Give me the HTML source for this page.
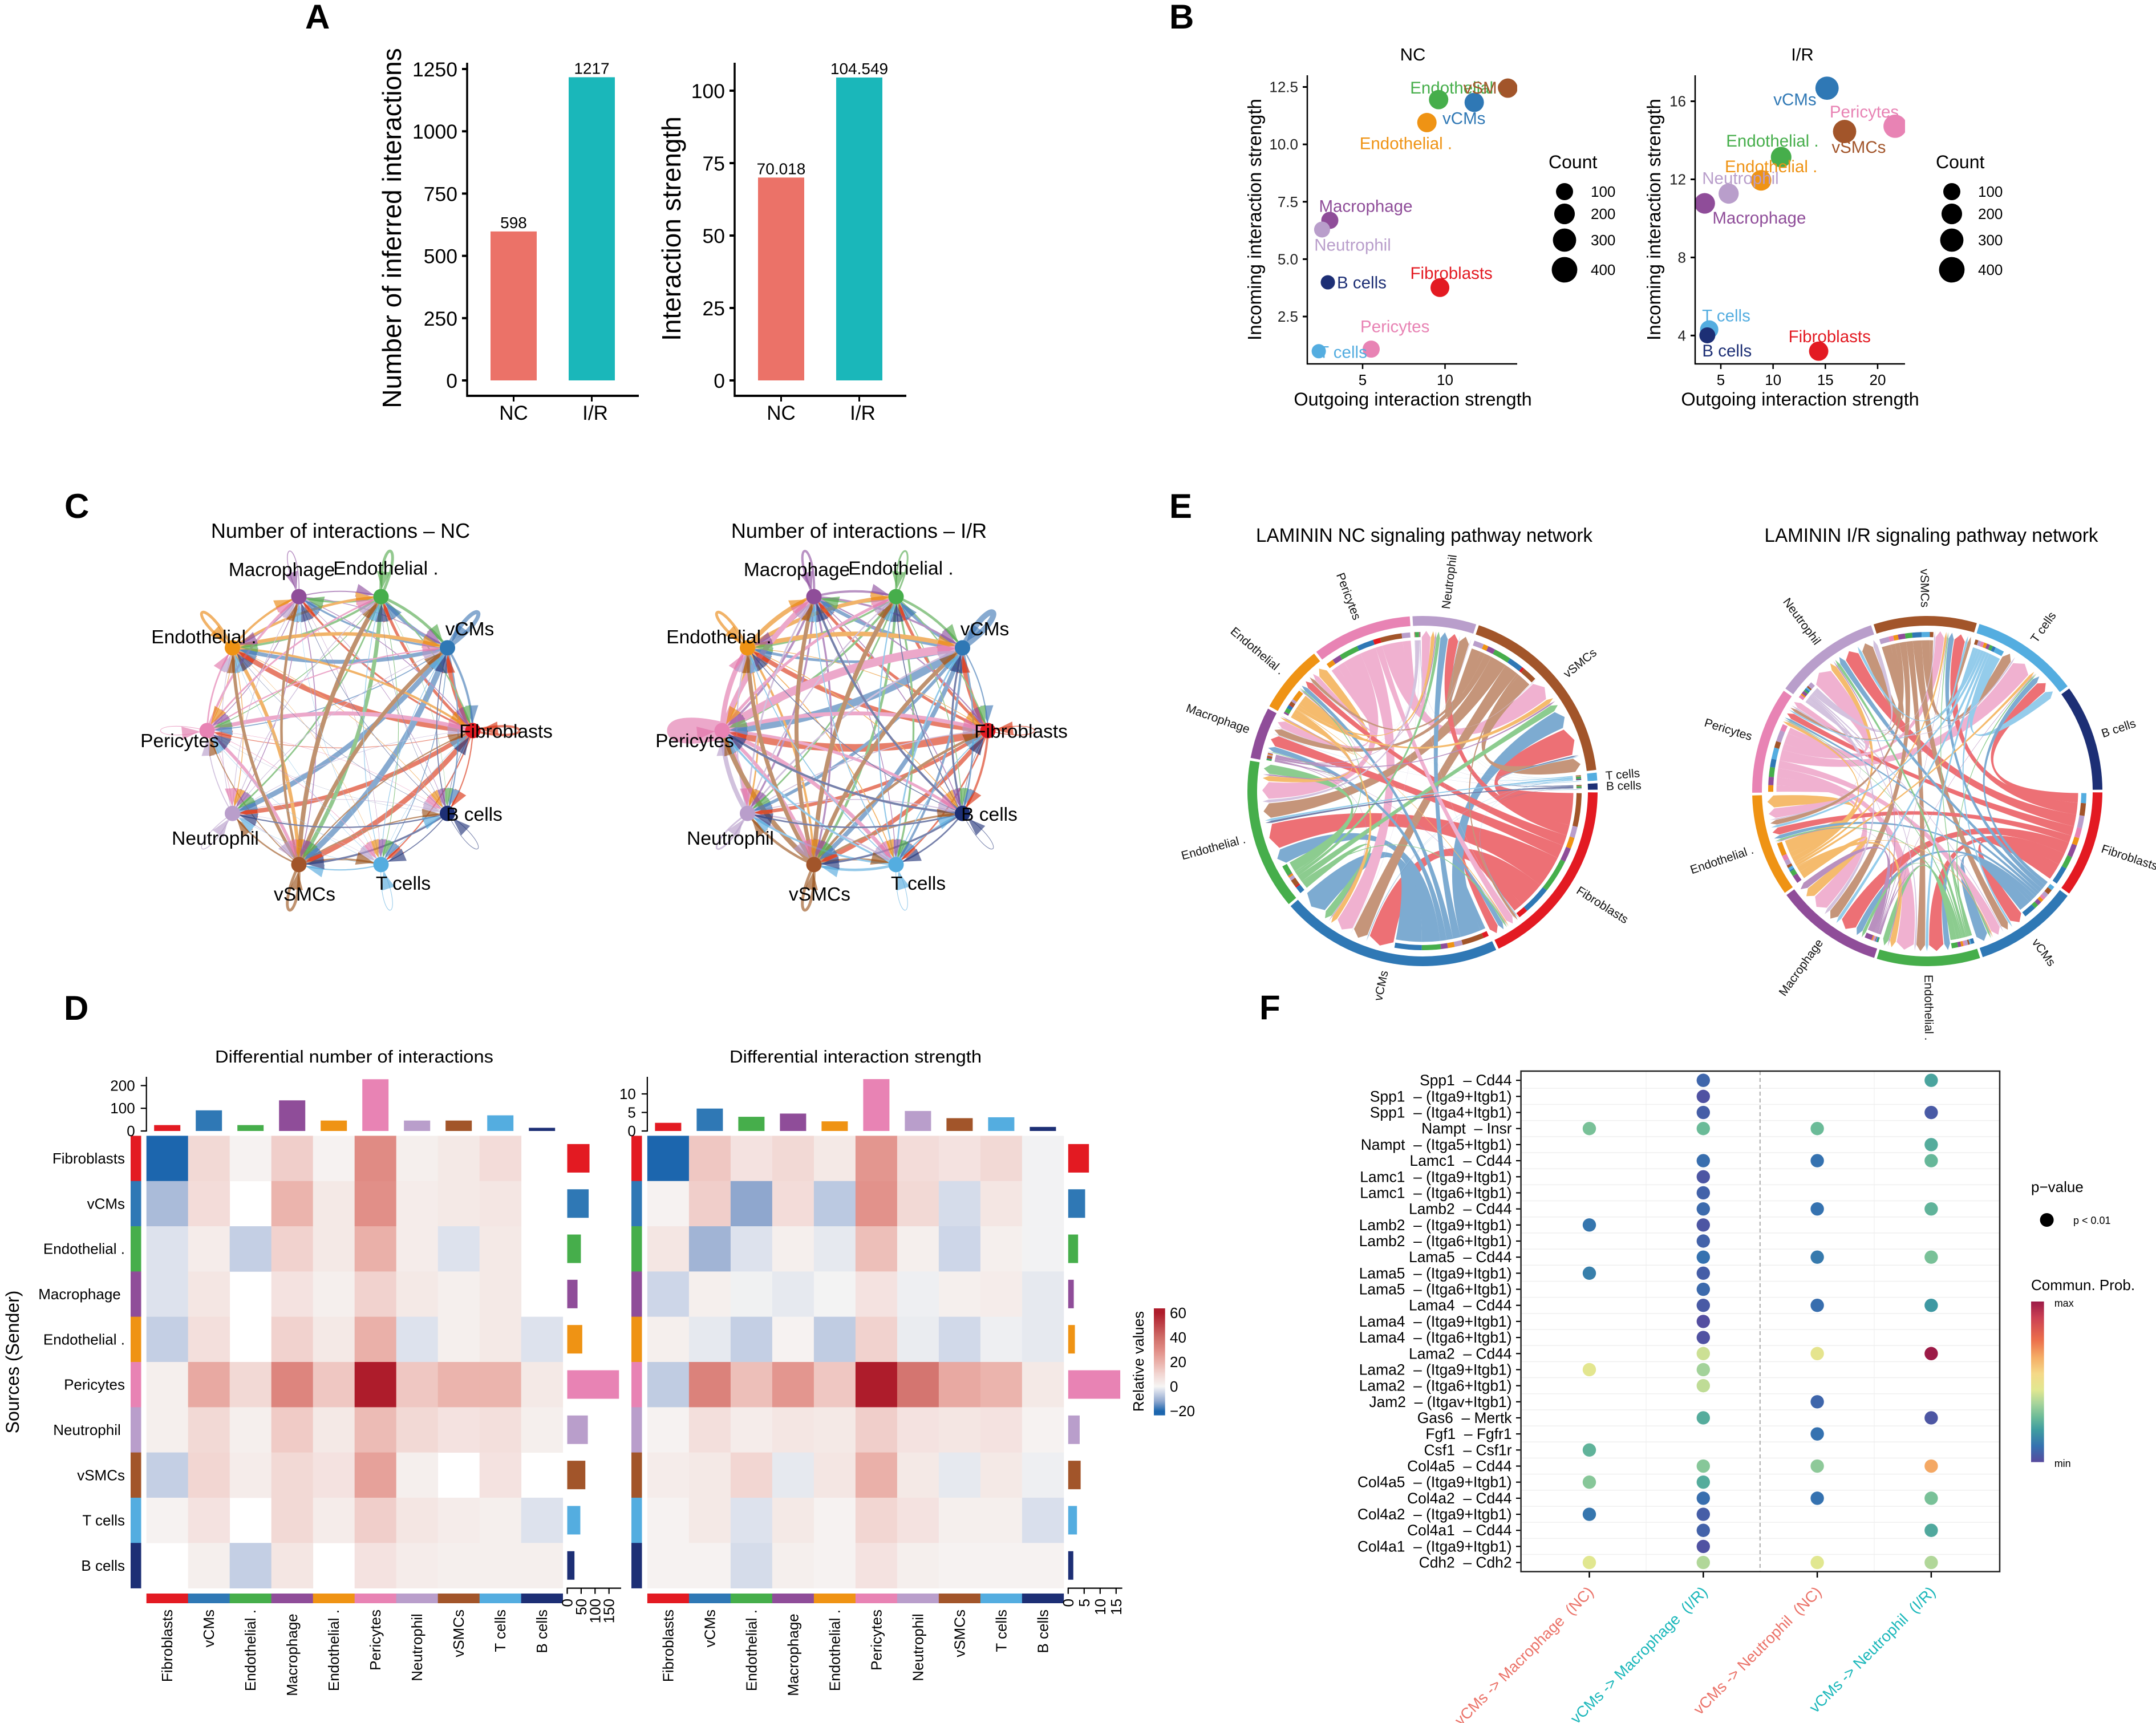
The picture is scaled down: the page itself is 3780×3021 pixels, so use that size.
<!DOCTYPE html>
<html lang="en">
<head>
<meta charset="utf-8">
<title>Cell communication figure</title>
<style>
html,body{margin:0;padding:0;background:#fff;}
svg{display:block;}
text{font-family:"Liberation Sans",sans-serif;fill:#000;white-space:pre;}
.letter{font-weight:bold;font-size:60px;}
</style>
</head>
<body>
<svg id="fig" xmlns="http://www.w3.org/2000/svg" width="3780" height="3021" viewBox="0 0 3780 3021">
<defs>
<clipPath id="clipB1"><rect x="2292" y="132" width="368" height="506"/></clipPath>
<clipPath id="clipB2"><rect x="2972" y="132" width="368" height="506"/></clipPath>
<linearGradient id="heatGrad" gradientUnits="userSpaceOnUse" x1="0" x2="0" y1="2302" y2="2474"></linearGradient>
<linearGradient id="probGrad" x1="0" x2="0" y1="1" y2="0"></linearGradient>
</defs>
<rect x="0" y="0" width="3780" height="3021" fill="#fff"/>

<text class="letter" x="535" y="50">A</text>
<text class="letter" x="2050" y="50">B</text>
<text class="letter" x="113" y="908">C</text>
<text class="letter" x="112" y="1788">D</text>
<text class="letter" x="2050" y="908">E</text>
<text class="letter" x="2208" y="1787">F</text>

<g id="panelA">
<text transform="rotate(-90 703 400)" x="703" y="400" font-size="46" text-anchor="middle">Number of inferred interactions</text>
<text transform="rotate(-90 1193 401)" x="1193" y="401" font-size="46" text-anchor="middle">Interaction strength</text>
</g>

<g id="panelB">
<text x="2477" y="106" font-size="31" text-anchor="middle">NC</text>
<text x="3160" y="106" font-size="31" text-anchor="middle">I/R</text>
<text x="2477" y="711" font-size="32.5" text-anchor="middle">Outgoing interaction strength</text>
<text x="3156" y="711" font-size="32.5" text-anchor="middle">Outgoing interaction strength</text>
<text transform="rotate(-90 2211 385)" x="2211" y="385" font-size="33" text-anchor="middle">Incoming interaction strength</text>
<text transform="rotate(-90 2911 385)" x="2911" y="385" font-size="33" text-anchor="middle">Incoming interaction strength</text>
</g>

<g id="panelC">
<text x="597" y="943" font-size="36" text-anchor="middle">Number of interactions – NC</text>
<text x="1506" y="943" font-size="36" text-anchor="middle">Number of interactions – I/R</text>
</g>

<g id="panelE">
<text x="2497" y="950" font-size="34" text-anchor="middle" textLength="590" lengthAdjust="spacingAndGlyphs">LAMININ NC signaling pathway network</text>
<text x="3386" y="950" font-size="34" text-anchor="middle" textLength="585" lengthAdjust="spacingAndGlyphs">LAMININ I/R signaling pathway network</text>
</g>

<g id="panelD">
<text x="621" y="1863" font-size="31" text-anchor="middle" textLength="488" lengthAdjust="spacingAndGlyphs">Differential number of interactions</text>
<text x="1500" y="1863" font-size="31" text-anchor="middle" textLength="442" lengthAdjust="spacingAndGlyphs">Differential interaction strength</text>
<text transform="rotate(-90 33 2388)" x="33" y="2388" font-size="32" text-anchor="middle">Sources (Sender)</text>
<text transform="rotate(-90 2005 2387)" x="2005" y="2387" font-size="26" text-anchor="middle">Relative values</text>
</g>

<g id="panelF">
<text x="3561" y="2090" font-size="26">p−value</text>
<circle cx="3588.6" cy="2139" r="12" fill="#000"/>
<text x="3635" y="2146" font-size="18">p &lt; 0.01</text>
<text x="3561" y="2262" font-size="26">Commun. Prob.</text>
<rect x="3561" y="2282" width="22.6" height="281.6" fill="url(#probGrad)"/>
<text x="3601.7" y="2291" font-size="18">max</text>
<text x="3601.7" y="2572" font-size="18">min</text>
</g>
</svg>

<script>
/* ---------- shared categories ---------- */
const cellTypes = ['Fibroblasts','vCMs','Endothelial .','Macrophage','Endothelial .','Pericytes','Neutrophil','vSMCs','T cells','B cells'];
const heatLabels = ['Fibroblasts','vCMs','Endothelial .','Macrophage ','Endothelial .','Pericytes','Neutrophil ','vSMCs','T cells','B cells'];
const cellColors = ['#E31A22','#2F78B5','#46AE4B','#8F4D99','#EF9314','#E883B4','#B99ECB','#A2552A','#54ADE0','#1D2F75'];
const edgeColors = ['#D82A08','#3973B2','#4BA544','#8A4A9C','#E98207','#E170A7','#B499C8','#964A10','#4EA6DC','#1D2F75'];

/* ---------- panel A data ---------- */
const barCategories = ['NC','I/R'];
const barColors = ['#EB7268','#1AB7BA'];
const interactionCounts = [598,1217];
const interactionStrengths = [70.018,104.549];
const countTicks = [0,250,500,750,1000,1250];
const strengthTicks = [0,25,50,75,100];

/* ---------- panel B data ---------- */
const ncOutgoing = [9.69,11.77,9.61,3.01,8.9,5.52,2.54,13.81,2.34,2.89];
const ncIncoming = [3.76,11.83,11.95,6.69,10.95,1.08,6.29,12.45,0.99,3.99];
const ncCounts = [145,161,161,100,161,100,75,161,44,44];
const irOutgoing = [14.36,15.16,10.77,3.46,8.85,21.67,5.75,16.84,3.89,3.71];
const irIncoming = [3.2,16.67,13.14,10.77,11.95,14.72,11.27,14.45,4.31,4.01];
const irCounts = [160,300,200,200,200,300,185,300,130,75];
const ncXTicks = [5,10];
const ncYTicks = [2.5,5,7.5,10,12.5];
const irXTicks = [5,10,15,20];
const irYTicks = [4,8,12,16];
const countLegend = [100,200,300,400];
const ncLabelShift = [[-52,-25.5],[-55.6,28],[-50,-20.4],[-19,-25],[-118,36.7],[-19,-39.8],[-13.6,27],[-78,-0.5],[0,1.5],[16,0.5]];
const irLabelShift = [[-53,-25.5],[-94,20],[-96.5,-28.6],[13.6,25.5],[-63.6,-24],[-114.7,-25.5],[-46.5,-27],[-22.7,27.5],[-12.5,-24],[-9,27]];

/* ---------- panel C data: interactions from row to column ---------- */
const ncInteractions = [
 [27,28,18,12,32,4,28,32,8,8],
 [14,47,22,12,25,6,32,36,5,8],
 [8,18,33,12,14,5,10,25,4,2],
 [5,5,7,10,8,5,5,6,2,3],
 [14,22,16,14,33,4,5,22,2,3],
 [25,8,10,14,10,7,3,20,3,2],
 [3,4,5,4,4,6,10,4,2,3],
 [8,25,28,16,20,6,10,33,12,8],
 [2,4,4,2,2,2,2,8,7,3],
 [3,6,2,3,2,1,8,12,6,7]
];
const irInteractions = [
 [10,30,18,18,28,48,22,28,10,14],
 [8,67,20,22,17,48,20,28,14,10],
 [8,16,20,14,12,14,10,16,12,5],
 [8,12,14,27,14,14,12,12,5,6],
 [4,28,24,28,33,18,10,14,6,5],
 [24,52,18,32,30,200,28,22,24,18],
 [6,10,8,10,8,28,20,12,10,6],
 [16,25,28,25,25,30,16,33,14,12],
 [6,10,8,6,6,12,12,16,7,8],
 [3,12,6,14,5,14,10,12,10,7]
];
const netLabelShift = [[58,1.5],[39,-32.6],[8.5,-49.5],[-30,-47],[-50,-19],[-48,18],[-30,44],[10,52],[39,33],[47,2]];

/* ---------- panel D data ---------- */
const diffCount = [
 [-20,9,1,12,1,30,2,4,8,null],
 [-9,8,null,19,4,29,3,4,5,null],
 [-3,3,-6,11,4,20,3,-3,4,null],
 [-3,5,null,6,2,11,4,2,4,null],
 [-6,7,null,11,4,20,-3,2,4,-3],
 [2,22,9,32,14,60,14,19,19,4],
 [2,9,2,13,4,17,9,6,7,2],
 [-6,10,3,9,6,24,2,null,6,null],
 [1,6,null,9,3,12,5,3,2,-3],
 [null,2,-6,5,null,6,3,2,2,2]
];
const diffStrength = [
 [-20,14,6,9,4,27,8,6,9,-0.5],
 [1,12,-12,8,-7,28,9,-4,5,-0.5],
 [5,-10,-3,2,-2,16,2,-5,2,-0.5],
 [-5,2,-0.7,-2,-0.4,6,-1,2,3,-2],
 [2,-2,-6,1,-6.5,11,-1.5,-4.5,-1,-2],
 [-6.5,33,16,27,14,60,37,22,19,4],
 [1,7,3,5,4,12,6,5,6,1],
 [3,4,10,-2,5,20,4,-2,4,-1],
 [1,4,-3,4,1,10,6,2,2,-3.5],
 [1,1,-4,2,1,6,2,1,1,1]
];
const countTopBars = [26,91,26,135,46,228,46,46,69,14];
const countRightBars = [80,77,49,37,54,186,74,65,47,26];
const strengthTopBars = [2.2,6.05,3.83,4.7,2.6,14,5.4,3.46,3.7,1.1];
const strengthRightBars = [6.5,5.3,3.1,1.75,2.1,16.3,3.6,3.9,2.75,1.6];
const countTopTicks = [0,100,200];
const countRightTicks = [0,50,100,150];
const strengthTopTicks = [0,5,10];
const strengthRightTicks = [0,5,10,15];
const heatLegendTicks = [60,40,20,0,-20];

/* ---------- panel E data: pathway flows from row to column ---------- */
const ncSectorShares = [64.5,74.5,51,18,23.6,34,22,65,3.5,3];
const irSectorShares = [36.3,35.7,35.2,36.8,35,36.4,36.3,35.2,36.8,36.3];
const ncFlows = [
 [3.5,10,12,5,4,0,4,12,0,0],
 [2,10,7,2.5,2.5,0,3,8,0,0],
 [.7,3,4.5,.3,.8,0,1.5,3,0,0],
 [.2,.3,.6,.3,.5,0,.5,.8,0,0],
 [.4,2,2.5,1,6,0,1.5,2,0,0],
 [3,7,8,3.5,3,0,3.5,9,0,0],
 [.1,.1,1.4,.2,.1,0,.2,.2,0,0],
 [1,6,7,3,2,0,4,6,0,0],
 [.2,.2,1,.1,.1,0,.1,.4,.2,.2],
 [.1,.1,1,.05,.05,0,.05,.5,.05,.1]
];
const irFlows = [
 [0,7,5,5,3,4,5,5,4,0],
 [0,6,2,2,1.5,1.5,2,2.5,2,0],
 [0,1,2,1,.7,.5,1,.5,.5,0],
 [0,.3,.3,2,.3,.3,.4,.2,.2,0],
 [0,.5,2,3,5,2,2,1,1,0],
 [0,5,6,5,4,4,7,4,7,0],
 [0,.5,.5,1,.5,1,1.5,.5,.5,0],
 [0,4,3,3,2,2,4,1.5,3.5,0],
 [0,1,1,1,1,1,1,1,3,0],
 [0,0,0,0,0,0,0,0,0,0]
];

/* ---------- panel F data ---------- */
const ligandReceptors = ['Spp1  – Cd44','Spp1  – (Itga9+Itgb1)','Spp1  – (Itga4+Itgb1)','Nampt  – Insr','Nampt  – (Itga5+Itgb1)','Lamc1  – Cd44','Lamc1  – (Itga9+Itgb1)','Lamc1  – (Itga6+Itgb1)','Lamb2  – Cd44','Lamb2  – (Itga9+Itgb1)','Lamb2  – (Itga6+Itgb1)','Lama5  – Cd44','Lama5  – (Itga9+Itgb1)','Lama5  – (Itga6+Itgb1)','Lama4  – Cd44','Lama4  – (Itga9+Itgb1)','Lama4  – (Itga6+Itgb1)','Lama2  – Cd44','Lama2  – (Itga9+Itgb1)','Lama2  – (Itga6+Itgb1)','Jam2  – (Itgav+Itgb1)','Gas6  – Mertk','Fgf1  – Fgfr1','Csf1  – Csf1r','Col4a5  – Cd44','Col4a5  – (Itga9+Itgb1)','Col4a2  – Cd44','Col4a2  – (Itga9+Itgb1)','Col4a1  – Cd44','Col4a1  – (Itga9+Itgb1)','Cdh2  – Cdh2'];
const pairColumns = ['vCMs -> Macrophage  (NC)','vCMs -> Macrophage  (I/R)','vCMs -> Neutrophil  (NC)','vCMs -> Neutrophil  (I/R)'];
const pairColors = ['#EB7268','#1AB7BA','#EB7268','#1AB7BA'];
const _ = null;
const probMacrophageNC = [_,_,_,.3,_,_,_,_,_,.11,_,_,.13,_,_,_,_,_,.46,_,_,_,_,.26,_,.32,_,.11,_,_,.45];
const probMacrophageIR = [.07,.02,.05,.28,_,.09,.03,.06,.08,.03,.06,.1,.05,.08,.04,.01,.02,.42,.36,.4,_,.24,_,_,.32,.24,.09,.05,.06,.02,.38];
const probNeutrophilNC = [_,_,_,.28,_,.1,_,_,.1,_,_,.12,_,_,.09,_,_,.47,_,_,.07,_,.1,_,.33,_,.1,_,_,_,.45];
const probNeutrophilIR = [.22,_,.04,_,.24,.27,_,_,.26,_,_,.3,_,_,.19,_,_,1,_,_,_,.03,_,_,.66,_,.3,_,.23,_,.38];
const spectralStops = [0,.1,.2,.28,.37,.45,.55,.65,.76,.9,1];
const spectralColors = ['#574A9E','#3572B0','#3F9CA0','#6BBB98','#AAD59A','#E1E790','#F5D988','#F5AE66','#EC6F4B','#CB4053','#9C1B47'];

/* ---------- helpers ---------- */
const NS = 'http://www.w3.org/2000/svg';
function mk(parent, tag, attrs, name) {
  const el = document.createElementNS(NS, tag);
  for (const k in attrs) el.setAttribute(k, attrs[k]);
  
  
  parent.appendChild(el);
  return el;
}
function label(parent, x, y, str, size, name, opt) {
  opt = opt || {};
  const a = {x: x, y: y, 'font-size': size};
  if (opt.anchor) a['text-anchor'] = opt.anchor;
  if (opt.rotate !== undefined) a.transform = 'rotate(' + opt.rotate + ' ' + x + ' ' + y + ')';
  const t = mk(parent, 'text', a, name);
  if (opt.fill) t.style.fill = opt.fill;
  t.textContent = str;
  return t;
}
function line(parent, x1, y1, x2, y2, w, name, stroke) {
  return mk(parent, 'line', {x1: x1, y1: y1, x2: x2, y2: y2, stroke: stroke || '#000', 'stroke-width': w}, name);
}
function rect(parent, x, y, w, h, fill, name) {
  return mk(parent, 'rect', {x: x, y: y, width: w, height: h, fill: fill}, name);
}
function slug(s) { return s.trim().replace(/[^A-Za-z0-9]+/g, '-').replace(/-$/, '').toLowerCase(); }
function hex(c) { return [1, 3, 5].map(i => parseInt(c.substr(i, 2), 16)); }
function mix(a, b, t) {
  const p = hex(a), q = hex(b);
  return 'rgb(' + p.map((v, i) => Math.round(v + (q[i] - v) * t)).join(',') + ')';
}
function ramp(stops, colors, v) {
  if (v <= stops[0]) return mix(colors[0], colors[0], 0);
  for (let i = 1; i < stops.length; i++) {
    if (v <= stops[i]) return mix(colors[i - 1], colors[i], (v - stops[i - 1]) / (stops[i] - stops[i - 1]));
  }
  return mix(colors[colors.length - 1], colors[colors.length - 1], 0);
}

/* ---------- panel A ---------- */
function drawBars(g, axisX, values, ticks, yScale, id) {
  const xBand = i => axisX + 81.5 + i * 137;
  values.forEach((v, i) => {
    rect(g, xBand(i) - 40.5, yScale(v), 81, yScale(0) - yScale(v), barColors[i], id + '-bar-' + slug(barCategories[i]));
    label(g, xBand(i), yScale(v) - 6, String(v), 28, id + '-value-' + slug(barCategories[i]), {anchor: 'middle'});
    line(g, xBand(i), 694, xBand(i), 704, 3, id + '-x-tick');
    label(g, xBand(i) + (i ? 6 : 0), 736, barCategories[i], 35, id + '-x-label', {anchor: 'middle'});
  });
  ticks.forEach(t => {
    line(g, axisX - 9, yScale(t), axisX, yScale(t), 4, id + '-y-tick');
    label(g, axisX - 17, yScale(t) + 13, String(t), 35.5, id + '-y-label', {anchor: 'end'});
  });
  line(g, axisX, 110, axisX, 696, 3.5, id + '-y-axis');
  line(g, axisX - 1.5, 694, axisX + 301, 694, 4, id + '-x-axis');
}
const panelA = document.getElementById('panelA');
drawBars(panelA, 819, interactionCounts, countTicks, v => 667 - v * 0.4368, 'count');
drawBars(panelA, 1288, interactionStrengths, strengthTicks, v => 667 - v * 5.08, 'strength');

/* ---------- panel B ---------- */
const sizeScale = c => 15 + (Math.sqrt(c) - 10) * 0.74;
function drawScatter(g, cfg) {
  const L = cfg.axisX;
  const pts = mk(g, 'g', {'clip-path': 'url(#' + cfg.clip + ')'}, cfg.id + '-points');
  cfg.xs.forEach((xv, i) => {
    mk(pts, 'circle', {cx: cfg.x(xv), cy: cfg.y(cfg.ys[i]), r: sizeScale(cfg.counts[i]), fill: cellColors[i]}, cfg.id + '-point-' + slug(cellTypes[i]));
  });
  cfg.xs.forEach((xv, i) => {
    label(g, cfg.x(xv) + cfg.shift[i][0], cfg.y(cfg.ys[i]) + cfg.shift[i][1] + 10, cellTypes[i], 29.5, cfg.id + '-label-' + slug(cellTypes[i]), {fill: cellColors[i]});
  });
  line(g, L, 132, L, 639, 2.5, cfg.id + '-y-axis');
  line(g, L - 1, 638, L + 368, 638, 2.5, cfg.id + '-x-axis');
  cfg.xt.forEach(t => {
    line(g, cfg.x(t), 638, cfg.x(t), 647, 2.5, cfg.id + '-x-tick');
    label(g, cfg.x(t), 675, String(t), 26, cfg.id + '-x-label', {anchor: 'middle'});
  });
  cfg.yt.forEach(t => {
    line(g, L - 8, cfg.y(t), L, cfg.y(t), 3, cfg.id + '-y-tick');
    label(g, L - 16, cfg.y(t) + 9, cfg.fmt(t), 26, cfg.id + '-y-label', {anchor: 'end', fill: '#222'});
  });
  label(g, cfg.legendX, 295, 'Count', 32, cfg.id + '-legend-title');
  const legendY = [336, 375, 421, 473];
  countLegend.forEach((c, i) => {
    mk(g, 'circle', {cx: cfg.legendX + 28, cy: legendY[i], r: sizeScale(c), fill: '#000'}, cfg.id + '-legend-dot-' + c);
    label(g, cfg.legendX + 74, legendY[i] + 9, String(c), 26, cfg.id + '-legend-label-' + c);
  });
}
const panelB = document.getElementById('panelB');
drawScatter(panelB, {id: 'nc', clip: 'clipB1', axisX: 2292, xs: ncOutgoing, ys: ncIncoming, counts: ncCounts,
  x: v => 2389 + (v - 5) * 28.9, y: v => 555 - (v - 2.5) * 40.25, xt: ncXTicks, yt: ncYTicks, fmt: t => t.toFixed(1), shift: ncLabelShift, legendX: 2715});
drawScatter(panelB, {id: 'ir', clip: 'clipB2', axisX: 2972, xs: irOutgoing, ys: irIncoming, counts: irCounts,
  x: v => 3017 + (v - 5) * 18.33, y: v => 588.3 - (v - 4) * 34.23, xt: irXTicks, yt: irYTicks, fmt: t => String(t), shift: irLabelShift, legendX: 3394});

/* ---------- panel C ---------- */
function drawNetwork(g, cx, matrix, id) {
  const cy = 1281, rx = 233, ry = 247;
  const node = i => {
    const a = i * Math.PI / 5;
    return [cx + rx * Math.cos(a), cy - ry * Math.sin(a)];
  };
  const widthScale = v => v * 0.28;
  const selfScale = v => v * 0.15;
  const edges = mk(g, 'g', {opacity: 0.6, fill: 'none'}, id + '-edges');
  const arrows = mk(g, 'g', {opacity: 0.62}, id + '-arrows');
  const head = (t, ux, uy, color, name) => {
    const tip = [t[0] - ux * 13, t[1] - uy * 13];
    const bx = t[0] - ux * 44, by = t[1] - uy * 44;
    mk(arrows, 'polygon', {points: tip + ' ' + (bx - uy * 11.5) + ',' + (by + ux * 11.5) + ' ' + (bx + uy * 11.5) + ',' + (by - ux * 11.5), fill: color}, name + '-arrow');
  };
  matrix.forEach((row, i) => {
    row.forEach((v, j) => {
      const s = node(i), t = node(j);
      const name = id + '-edge-' + slug(cellTypes[i]) + '-to-' + slug(cellTypes[j]);
      if (i === j) {
        const a0 = i * Math.PI / 5;
        const a = Math.atan2(Math.sin(a0) * 1.6, Math.cos(a0));
        const L = 112, sp = 0.24;
        const c1 = [s[0] + L * Math.cos(a - sp), s[1] - L * Math.sin(a - sp)];
        const c2 = [s[0] + L * Math.cos(a + sp), s[1] - L * Math.sin(a + sp)];
        mk(edges, 'path', {d: 'M' + s + ' C' + c1 + ' ' + c2 + ' ' + s, stroke: edgeColors[i], 'stroke-width': selfScale(v)}, name);
        head(s, -Math.cos(a + 0.1), Math.sin(a + 0.1), edgeColors[i], name);
        return;
      }
      const dx = t[0] - s[0], dy = t[1] - s[1];
      const c = [(s[0] + t[0]) / 2 + dy * 0.13, (s[1] + t[1]) / 2 - dx * 0.13];
      mk(edges, 'path', {d: 'M' + s + ' Q' + c + ' ' + t, stroke: edgeColors[i], 'stroke-width': widthScale(v)}, name);
      const ex = t[0] - c[0], ey = t[1] - c[1], n = Math.hypot(ex, ey);
      head(t, ex / n, ey / n, edgeColors[i], name);
    });
  });
  cellTypes.forEach((n, i) => {
    const p = node(i);
    mk(g, 'circle', {cx: p[0], cy: p[1], r: 13.5, fill: cellColors[i]}, id + '-node-' + slug(n));
  });
  cellTypes.forEach((n, i) => {
    const p = node(i);
    label(g, p[0] + netLabelShift[i][0], p[1] + netLabelShift[i][1] + 11, n, 33.5, id + '-label-' + slug(n), {anchor: 'middle'});
  });
}
const panelC = document.getElementById('panelC');
drawNetwork(panelC, 596, ncInteractions, 'net-nc');
drawNetwork(panelC, 1499, irInteractions, 'net-ir');

/* ---------- panel D ---------- */
const heatStops = [-20,-12,-5,0,10,20,30,40,60];
const heatColors = ['#1C66AE','#8FA7CE','#CDD6E8','#F6F5F4','#F2D6D2','#EAB0A9','#E08B84','#CF6C67','#AE1C2B'];
const heatColor = v => ramp(heatStops, heatColors, v);
function drawHeatmap(g, cfg) {
  const L = cfg.left, top = 1991.4, cw = 73, ch = 79.32, id = cfg.id;
  const right = L + 10 * cw, bottom = top + 10 * ch;
  const topY = v => 1983 - v * cfg.topScale;
  const rightX = v => cfg.rightStart + v * cfg.rightScale;
  cfg.matrix.forEach((row, r) => {
    row.forEach((v, c) => {
      if (v === null) return;
      rect(g, L + c * cw, top + r * ch, cw + .4, ch + .4, heatColor(v), id + '-cell-' + slug(cellTypes[r]) + '-' + slug(cellTypes[c]));
    });
  });
  cellTypes.forEach((n, i) => {
    rect(g, cfg.rowBar, top + i * ch, 18.5, ch + .3, cellColors[i], id + '-row-color-' + slug(n));
    rect(g, L + i * cw, 2794, cw + .3, 17, cellColors[i], id + '-col-color-' + slug(n));
    rect(g, L + i * cw + 13.5, topY(cfg.topBars[i]), 46, 1983 - topY(cfg.topBars[i]), cellColors[i], id + '-top-bar-' + slug(n));
    rect(g, cfg.rightStart, top + i * ch + 14.5, rightX(cfg.rightBars[i]) - cfg.rightStart, 50, cellColors[i], id + '-right-bar-' + slug(n));
    label(g, L + i * cw + cw / 2 + 9, 2822, heatLabels[i], 26, id + '-col-label-' + slug(n), {anchor: 'end', rotate: -90});
    if (cfg.rowLabels) label(g, 219, top + i * ch + ch / 2 + 9, heatLabels[i], 26, id + '-row-label-' + slug(n), {anchor: 'end'});
  });
  line(g, L, 1888, L, 1984, 2.2, id + '-top-axis');
  cfg.topTicks.forEach(t => {
    line(g, L - 10, topY(t), L, topY(t), 2.2, id + '-top-tick');
    label(g, L - 20, topY(t) + 9, String(t), 26, id + '-top-tick-label', {anchor: 'end'});
  });
  line(g, cfg.rightStart - 1, bottom, cfg.rightEnd, bottom, 2.2, id + '-right-axis');
  cfg.rightTicks.forEach(t => {
    line(g, rightX(t), bottom, rightX(t), bottom + 10, 2.2, id + '-right-tick');
    label(g, rightX(t) + 9, 2803, String(t), 26, id + '-right-tick-label', {anchor: 'end', rotate: -90});
  });
}
const panelD = document.getElementById('panelD');
drawHeatmap(panelD, {id: 'number', left: 256.7, rowBar: 229, matrix: diffCount, topBars: countTopBars, rightBars: countRightBars,
  topScale: 0.398, rightStart: 994.5, rightScale: 0.488, rightEnd: 1089, topTicks: countTopTicks, rightTicks: countRightTicks, rowLabels: true});
drawHeatmap(panelD, {id: 'strength', left: 1134.9, rowBar: 1107, matrix: diffStrength, topBars: strengthTopBars, rightBars: strengthRightBars,
  topScale: 6.5, rightStart: 1872.8, rightScale: 5.6, rightEnd: 1967.6, topTicks: strengthTopTicks, rightTicks: strengthRightTicks, rowLabels: false});
const heatLegendY = v => 2431 - v * 2.15;
const heatGrad = document.getElementById('heatGrad');
[60, 40, 30, 20, 10, 0, -3, -8, -12, -20].forEach(v => {
  const s = document.createElementNS(NS, 'stop');
  s.setAttribute('offset', (heatLegendY(v) - 2302) / 172);
  s.setAttribute('stop-color', heatColor(v));
  heatGrad.appendChild(s);
});
rect(panelD, 2023, 2294, 19.7, 187.6, 'url(#heatGrad)', 'heatmap-colorbar');
heatLegendTicks.forEach(t => {
  label(panelD, 2051, heatLegendY(t) + 9, t < 0 ? '−' + (-t) : String(t), 26, 'heatmap-legend-label');
});

/* ---------- panel E ---------- */
function drawChord(g, cx, cy, shares, flows, id) {
  const rad = d => d * Math.PI / 180;
  const pt = (a, r) => (cx + r * Math.cos(rad(a))).toFixed(1) + ' ' + (cy + r * Math.sin(rad(a))).toFixed(1);
  const total = shares.reduce((a, b) => a + b, 0);
  const start = [];
  shares.reduce((acc, s, i) => { start[i] = acc; return acc + s * 360 / total; }, 0);
  const gap = 0.45;
  const band = (a1, a2, r1, r2) => 'M' + pt(a1, r2) + ' A' + r2 + ' ' + r2 + ' 0 ' + (a2 - a1 > 180 ? 1 : 0) + ' 1 ' + pt(a2, r2) +
    ' L' + pt(a2, r1) + ' A' + r1 + ' ' + r1 + ' 0 ' + (a2 - a1 > 180 ? 1 : 0) + ' 0 ' + pt(a1, r1) + ' Z';
  const n = cellTypes.length;
  const outSpan = [], inSpan = [];
  for (let i = 0; i < n; i++) { outSpan.push(new Array(n)); inSpan.push(new Array(n)); }
  for (let s = 0; s < n; s++) {
    const size = shares[s] * 360 / total - 2 * gap - 0.6;
    let sum = 0;
    for (let k = 0; k < n; k++) sum += flows[s][k] + flows[k][s];
    if (sum === 0) continue;
    const unit = size / sum;
    let a = start[s] + gap + 0.3;
    for (let d = 1; d <= n; d++) {
      const j = ((s - d) % n + n) % n;
      const w = flows[s][j] * unit;
      outSpan[s][j] = [a, a + w];
      a += w;
    }
    a += 0.3;
    for (let d = 1; d <= n; d++) {
      const j = ((s - d) % n + n) % n;
      const w = flows[j][s] * unit;
      inSpan[j][s] = [a, a + w];
      a += w;
    }
  }
  const chords = mk(g, 'g', {opacity: 0.62}, id + '-chords');
  const order = [];
  for (let i = 0; i < n; i++) for (let j = 0; j < n; j++) if (flows[i][j] > 0) order.push([i, j]);
  order.sort((p, q) => flows[q[0]][q[1]] - flows[p[0]][p[1]]);
  order.forEach(p => {
    const i = p[0], j = p[1], o = outSpan[i][j], t = inSpan[i][j];
    const r1 = 264.5, r2 = 270, r3 = 281;
    const tw = (t[1] - t[0]) * 0.04, t0 = t[0] + tw, t1 = t[1] - tw, tm = (t0 + t1) / 2;
    const d = 'M' + pt(o[0], r1) + ' A' + r1 + ' ' + r1 + ' 0 0 1 ' + pt(o[1], r1) +
      ' Q' + cx + ' ' + cy + ' ' + pt(t0, r2) + ' L' + pt(tm, r3) + ' L' + pt(t1, r2) +
      ' Q' + cx + ' ' + cy + ' ' + pt(o[0], r1) + ' Z';
    mk(chords, 'path', {d: d, fill: cellColors[i]}, id + '-chord-' + slug(cellTypes[i]) + '-to-' + slug(cellTypes[j]));
  });
  order.forEach(p => {
    const i = p[0], j = p[1], o = outSpan[i][j];
    mk(g, 'path', {d: band(o[0], o[1], 270, 279), fill: cellColors[j]}, id + '-target-track');
  });
  cellTypes.forEach((name, i) => {
    const a1 = start[i] + gap, a2 = start[i] + shares[i] * 360 / total - gap;
    mk(g, 'path', {d: band(a1, a2, 290, 307), fill: cellColors[i]}, id + '-sector-' + slug(name));
    const mid = (a1 + a2) / 2, r = 322, rightSide = Math.cos(rad(mid)) >= 0;
    const x = cx + r * Math.cos(rad(mid)), y = cy + r * Math.sin(rad(mid));
    const tx = x + 7 * Math.sin(rad(mid)) * (rightSide ? -1 : 1), ty = y + 7 * Math.cos(rad(mid)) * (rightSide ? 1 : -1);
    const lb = label(g, tx, ty, name, 21, id + '-sector-label-' + slug(name), {anchor: rightSide ? 'start' : 'end', rotate: rightSide ? mid : mid - 180});
    lb.style.fill = '#111';
  });
}
const panelE = document.getElementById('panelE');
drawChord(panelE, 2494, 1387, ncSectorShares, ncFlows, 'chord-nc');
drawChord(panelE, 3379, 1387, irSectorShares, irFlows, 'chord-ir');

/* ---------- panel F ---------- */
const panelF = document.getElementById('panelF');
const probColumns = [probMacrophageNC, probMacrophageIR, probNeutrophilNC, probNeutrophilIR];
const fx = c => 2786.5 + c * 199.8;
const fy = r => 1894.2 + r * 28.18;
const probColor = v => ramp(spectralStops, spectralColors, v);
ligandReceptors.forEach((n, r) => {
  if (r < ligandReceptors.length - 1) line(panelF, 2667, fy(r) + 14.1, 3506, fy(r) + 14.1, 1.5, 'row-grid-line', '#EFEFEF');
});
[2886, 3286].forEach(x => line(panelF, x, 1878, x, 2755, 1.2, 'column-grid-line', '#EFEFEF'));
line(panelF, 3085.8, 1878, 3085.8, 2755, 2, 'group-divider', '#AAAAAA').setAttribute('stroke-dasharray', '7 5');
probColumns.forEach((col, c) => {
  col.forEach((v, r) => {
    if (v === null) return;
    mk(panelF, 'circle', {cx: fx(c), cy: fy(r), r: 11.7, fill: probColor(v)}, 'dot-' + slug(ligandReceptors[r]) + '-col-' + c);
  });
  line(panelF, fx(c), 2755, fx(c), 2766, 2.5, 'x-tick');
  label(panelF, fx(c) + 9, 2793, pairColumns[c], 27, 'x-label-' + slug(pairColumns[c]), {anchor: 'end', rotate: -45, fill: pairColors[c]});
});
ligandReceptors.forEach((n, r) => {
  line(panelF, 2658, fy(r), 2666, fy(r), 2.2, 'y-tick');
  label(panelF, 2650.5, fy(r) + 9, n, 26.4, 'y-label-' + slug(n), {anchor: 'end'});
});
mk(panelF, 'rect', {x: 2666.6, y: 1878, width: 839.4, height: 877.6, fill: 'none', stroke: '#222', 'stroke-width': 2.5}, 'dot-plot-frame');
const probGrad = document.getElementById('probGrad');
spectralColors.forEach((c, i) => {
  const s = document.createElementNS(NS, 'stop');
  s.setAttribute('offset', spectralStops[i]);
  s.setAttribute('stop-color', c);
  probGrad.appendChild(s);
});
</script>
</body>
</html>
